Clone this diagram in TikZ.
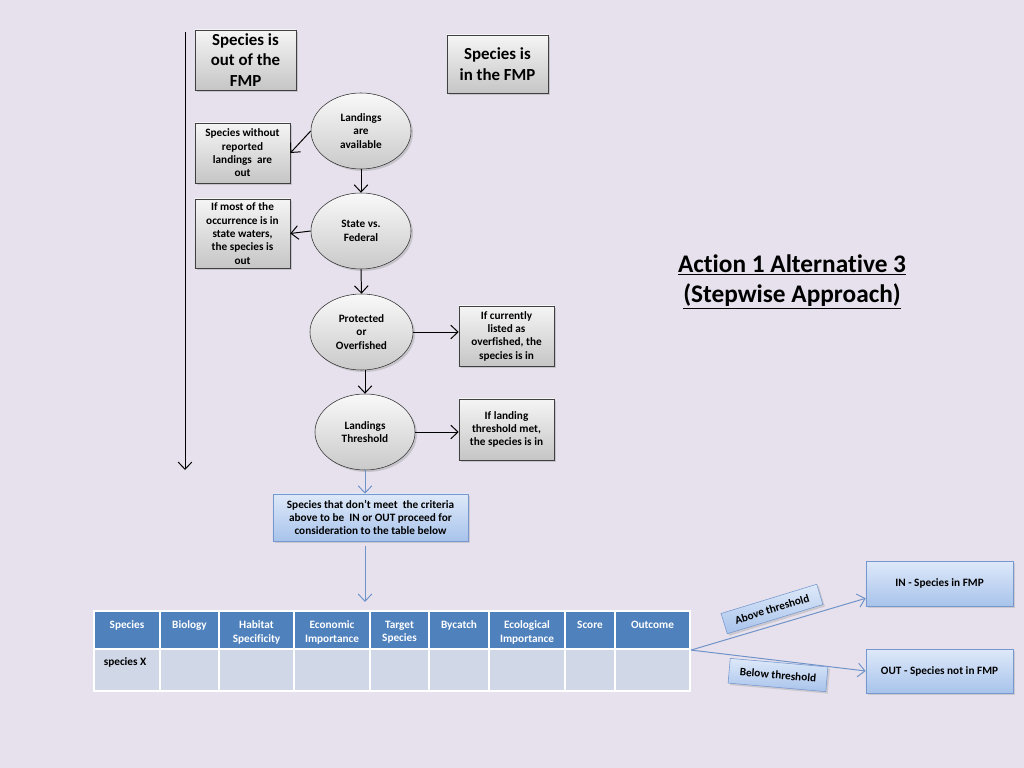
\documentclass[tikz,border=0pt]{standalone}
\usepackage{fontspec}
\setmainfont{Carlito}[Ligatures=NoCommon]
\usetikzlibrary{shapes.geometric,arrows.meta,shadows}

\definecolor{slidebg}{RGB}{230,225,236}
\definecolor{headblue}{RGB}{79,129,189}
\definecolor{cellblue}{RGB}{208,216,232}
\definecolor{lineblue}{RGB}{111,147,201}
\definecolor{boxtop}{RGB}{222,233,249}
\definecolor{boxbot}{RGB}{168,195,235}
\definecolor{boxedge}{RGB}{118,152,206}

\tikzset{
  every node/.style={font=\bfseries\fontsize{8}{9.5}\selectfont},
  greybox/.style={draw=black!75, top color=gray!8, bottom color=gray!45, align=center, inner sep=1pt,
    drop shadow={shadow xshift=0.5mm, shadow yshift=-0.5mm, opacity=0.3}},
  bigbox/.style={greybox, minimum width=2.525cm, minimum height=1.5cm, font=\bfseries\fontsize{12}{14.5}\selectfont},
  sidebox/.style={greybox, minimum width=2.375cm, minimum height=1.5cm},
  decision/.style={ellipse, draw=black!80, top color=gray!5, bottom color=gray!42, align=center, inner sep=0pt,
    minimum width=2.5cm, minimum height=1.9cm, drop shadow={shadow xshift=0.5mm, shadow yshift=-0.5mm, opacity=0.3}},
  bluebox/.style={draw=boxedge, top color=boxtop, bottom color=boxbot, align=center, inner sep=1pt,
    drop shadow={shadow xshift=0.5mm, shadow yshift=-0.5mm, opacity=0.25}},
  flow/.style={draw=black, line width=0.7pt, -{Straight Barb[length=1.8mm,width=3.4mm]}},
  blueflow/.style={draw=lineblue, line width=0.7pt, -{Straight Barb[length=1.8mm,width=3.4mm]}},
  headcell/.style={fill=headblue, draw=white, line width=1.5pt, inner sep=0pt, minimum height=0.95cm},
  datacell/.style={fill=cellblue, draw=white, line width=1.5pt, inner sep=0pt, minimum height=1.05cm},
}

\begin{document}
\begin{tikzpicture}[x=0.025cm, y=-0.025cm]
  \fill[slidebg] (0,0) rectangle (1024,768);
  %% out / in headings
  \coordinate (axtop) at (185,32);
  \coordinate (axbot) at (185,470);
  \draw[flow] (axtop) -- (axbot);
  \node[bigbox] (outFMP) at (245.5,60) {Species is\\out of the\\FMP};
  \node[bigbox, minimum height=1.45cm] (inFMP) at (497.5,64) {Species is\\in the FMP};
  %% decision steps
  \node[decision] (landavail) at (361,131) {Landings\\are\\available};
  \node[decision] (statefed) at (361,231) {State vs.\\Federal};
  \node[decision, minimum width=2.575cm] (protover) at (361.5,332) {Protected\\or\\Overfished};
  \node[decision] (landthresh) at (365,432) {Landings\\Threshold};
  \node[sidebox] (noland) at (242.5,153) {Species without\\reported\\landings\ \ are\\out};
  \node[sidebox, minimum height=1.725cm] (statewater) at (242.5,233.5) {If most of the\\occurrence is in\\state waters,\\the species is\\out};
  \node[sidebox] (overfished) at (506.5,336) {If currently\\listed as\\overfished, the\\species is in};
  \node[sidebox, minimum height=1.525cm] (threshmet) at (506.5,429.5) {If landing\\threshold met,\\the species is in};
  \draw[flow] (landavail.west) -- (noland.east);
  \draw[flow] (statefed.west) -- (statewater.east);
  \draw[flow] (landavail.south) -- (statefed.north);
  \draw[flow] (statefed.south) -- (protover.north);
  \draw[flow] (landthresh.north |- protover.south) -- (landthresh.north);
  \draw[flow] (protover.east) -- (protover.east -| overfished.west);
  \draw[flow] (landthresh.east) -- (landthresh.east -| threshmet.west);
  %% remaining species
  \node[bluebox, minimum width=4.875cm, minimum height=1.175cm] (remaining) at (370.5,517.5)
    {Species that don't meet\ \ the criteria\\above to be\ \ IN or OUT proceed for\\consideration to the table below};
  \draw[blueflow] (landthresh.south) -- (landthresh.south |- remaining.north);
  %% criteria table
  \foreach \xa/\xb/\txt [count=\i] in {94/160/Species, 160/219/Biology, 219/294/{Habitat\\Specificity},
      294/370/{Economic\\Importance}, 370/429/{Target\\Species}, 429/489/Bycatch,
      489/565/{Ecological\\Importance}, 565/615/Score, 615/690/Outcome}{
    \pgfmathsetmacro\cw{(\xb-\xa)*0.025}
    \node[headcell, minimum width=\cw cm] (h\i) at ({(\xa+\xb)/2},630) {};
    \node[datacell, minimum width=\cw cm] (d\i) at ({(\xa+\xb)/2},670) {};
    \node[text=white, align=center, anchor=north, inner sep=1pt] at ([yshift=-2.3mm]h\i.north) {\txt};
  }
  \node[anchor=north west, inner sep=1pt] at ([xshift=2.3mm, yshift=-2mm]d1.north west) {species X};
  \draw[blueflow, shorten <=1.2mm, shorten >=2mm] (remaining.south -| landthresh) -- (h5.north -| landthresh);
  %% outcome
  \node[bluebox, minimum width=3.675cm, minimum height=1.125cm] (inbox) at (939.5,583.5) {IN - Species in FMP};
  \node[bluebox, minimum width=3.675cm, minimum height=1.1cm] (outbox) at (939.5,671) {OUT - Species not in FMP};
  \draw[blueflow] (h9.south east) -- ([yshift=2mm]inbox.south west);
  \draw[blueflow] (h9.south east) -- (outbox.west);
  \node[bluebox, rotate=17, minimum width=2.5cm, minimum height=0.53cm] (abovelbl) at (772,609) {Above threshold};
  \node[bluebox, rotate=-5, minimum width=2.45cm, minimum height=0.62cm] (belowlbl) at (778,675) {Below threshold};
  %% title
  \node[align=center, font=\bfseries\fontsize{18}{21.5}\selectfont] (title) at (792,282)
    {\underline{Action 1 Alternative 3}\\\underline{(Stepwise Approach)}};
\end{tikzpicture}
\end{document}
